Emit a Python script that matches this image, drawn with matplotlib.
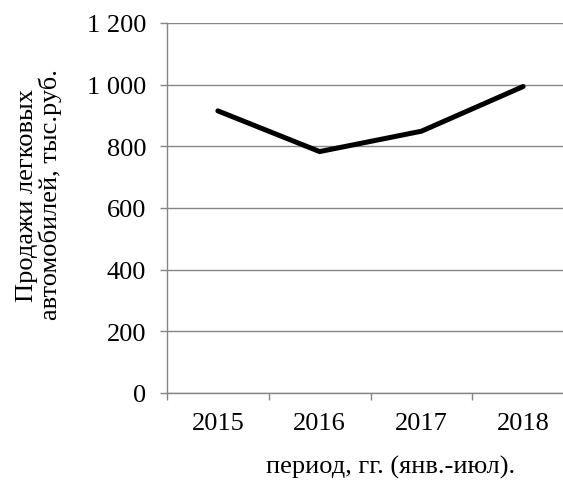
import numpy as np
import matplotlib.pyplot as plt
from matplotlib.ticker import FuncFormatter, MultipleLocator, FixedLocator

plt.rcParams.update({
    'font.family': 'Liberation Serif',
    'font.size': 19,
})

# Data
years = ['2015', '2016', '2017', '2018']
sales = [915, 783, 849, 994]

grid_color = '#868686'

fig = plt.figure(figsize=(5.63, 4.81), dpi=100)
ax = fig.add_axes([167 / 563, 87 / 481, 407 / 563, 370 / 481])

x = np.arange(len(years))
ax.plot(x, sales, color='black', linewidth=3.6, solid_capstyle='round',
        solid_joinstyle='miter', zorder=3)

ax.set_xlim(-0.5, len(years) - 0.5)
ax.set_ylim(0, 1200)

# y axis
ax.yaxis.set_major_locator(MultipleLocator(200))
ax.yaxis.set_major_formatter(FuncFormatter(lambda v, p: f'{int(v):,}'.replace(',', ' ')))
ax.grid(axis='y', color=grid_color, linewidth=1.0)
ax.tick_params(axis='y', direction='out', length=5, width=1, color=grid_color,
               pad=10, labelsize=19)

# x axis: labels at centres, ticks between categories
ax.set_xticks(x)
ax.set_xticklabels(years)
ax.xaxis.set_minor_locator(FixedLocator(np.arange(-0.5, len(years), 1.0)))
ax.tick_params(axis='x', which='major', length=0, pad=14, labelsize=19)
ax.tick_params(axis='x', which='minor', direction='out', length=5, width=1,
               color=grid_color)

for s in ['top', 'right']:
    ax.spines[s].set_visible(False)
for s in ['left', 'bottom']:
    ax.spines[s].set_color(grid_color)
    ax.spines[s].set_linewidth(1.0)

ax.set_axisbelow(True)

fig.text(391 / 563, 1 - 467 / 481, 'период, гг. (янв.-июл).', ha='center',
         va='center', fontsize=19)
fig.text(39 / 563, 1 - 195 / 481, 'Продажи легковых\nавтомобилей, тыс.руб.',
         ha='center', va='center', rotation=90, fontsize=19, linespacing=1.05)

fig.savefig('out.png', dpi=100)
